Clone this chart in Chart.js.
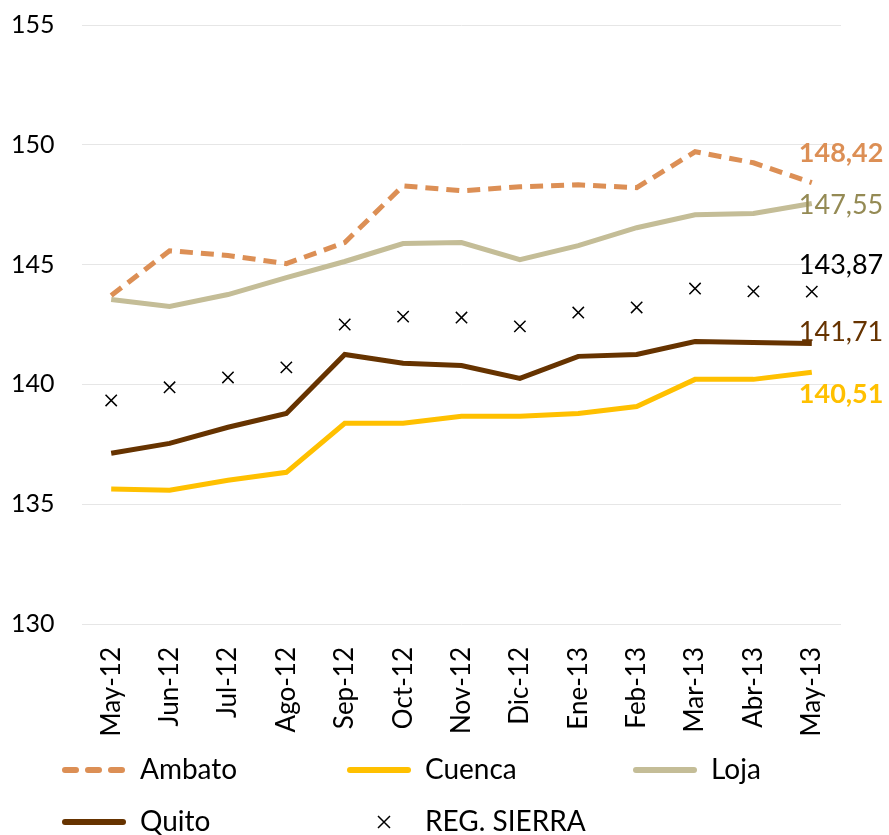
<!DOCTYPE html>
<html>
<head>
<meta charset="utf-8">
<script src="https://cdn.jsdelivr.net/npm/chart.js@4"></script>
<style>
  html, body { margin: 0; padding: 0; background: #fff; }
  #wrap { width: 889px; height: 835px; }
</style>
</head>
<body>
<div id="wrap"><canvas id="mainChart" width="889" height="835"></canvas></div>
<script>
// categories
var months = ['May-12','Jun-12','Jul-12','Ago-12','Sep-12','Oct-12','Nov-12','Dic-12','Ene-13','Feb-13','Mar-13','Abr-13','May-13'];

// series values
var ambato = [143.71,145.58,145.38,145.04,145.92,148.29,148.08,148.25,148.33,148.21,149.71,149.25,148.42];
var cuenca = [135.63,135.58,136.00,136.33,138.38,138.38,138.67,138.67,138.79,139.08,140.21,140.21,140.51];
var loja   = [143.54,143.25,143.75,144.46,145.13,145.88,145.92,145.21,145.79,146.54,147.08,147.13,147.55];
var quito  = [137.13,137.54,138.21,138.79,141.25,140.88,140.79,140.25,141.17,141.25,141.79,141.75,141.71];
var sierra = [139.33,139.88,140.29,140.71,142.50,142.83,142.79,142.42,143.00,143.21,144.00,143.88,143.87];

// y axis ticks
var yMin = 130, yMax = 155, yStep = 5;

var FONT = 'Lato';

function fmt(v) {
    return v.toFixed(2).replace('.', ',');
}

// draws the value of the last point, like the Excel labels
var endLabels = {
    id: 'endLabels',
    afterDatasetsDraw: function(chart) {
        var ctx = chart.ctx;
        chart.data.datasets.forEach(function(ds, i) {
            if (!ds.endLabel) return;
            var meta = chart.getDatasetMeta(i);
            var pt = meta.data[meta.data.length - 1];
            var v = ds.data[ds.data.length - 1];
            ctx.save();
            ctx.font = (ds.endLabel.bold ? 'bold ' : '') + '27px ' + FONT;
            ctx.fillStyle = ds.endLabel.color;
            ctx.textAlign = 'left';
            ctx.textBaseline = 'middle';
            ctx.fillText(fmt(v), pt.x - 13, pt.y + ds.endLabel.dy);
            ctx.restore();
        });
    }
};

// legend in a 3 column grid, like the original
var gridLegend = {
    id: 'gridLegend',
    afterDraw: function(chart) {
        var ctx = chart.ctx;
        var colX = [62, 347, 633];
        var rowY = [770, 822];
        chart.data.datasets.forEach(function(ds, i) {
            var x = colX[i % 3], y = rowY[Math.floor(i / 3)];
            ctx.save();
            if (ds.showLine === false) {
                var cx = x + 37, r = 6;
                ctx.strokeStyle = ds.pointBorderColor;
                ctx.lineWidth = 1.5;
                ctx.beginPath();
                ctx.moveTo(cx - r, y - r); ctx.lineTo(cx + r, y + r);
                ctx.moveTo(cx + r, y - r); ctx.lineTo(cx - r, y + r);
                ctx.stroke();
            } else {
                ctx.strokeStyle = ds.borderColor;
                ctx.lineWidth = 6;
                ctx.lineCap = 'round';
                ctx.setLineDash(ds.borderDash ? [11, 12] : []);
                ctx.beginPath();
                ctx.moveTo(x + 3, y); ctx.lineTo(x + 61, y);
                ctx.stroke();
            }
            ctx.restore();
            ctx.save();
            ctx.font = '28px ' + FONT;
            ctx.fillStyle = '#000';
            ctx.textBaseline = 'middle';
            ctx.fillText(ds.label, x + 78, y);
            ctx.restore();
        });
    }
};

var ctx = document.getElementById('mainChart').getContext('2d');
var chart = new Chart(ctx, {
    type: 'line',
    data: {
        labels: months,
        datasets: [
            { label: 'Ambato', data: ambato, borderColor: '#DC8F55', borderWidth: 5, borderDash: [13, 8],
              pointRadius: 0, endLabel: { color: '#DC8F55', bold: true, dy: -29 } },
            { label: 'Cuenca', data: cuenca, borderColor: '#FFC000', borderWidth: 5,
              pointRadius: 0, endLabel: { color: '#FFC000', bold: true, dy: 22 } },
            { label: 'Loja', data: loja, borderColor: '#C4BD97', borderWidth: 5,
              pointRadius: 0, endLabel: { color: '#948A54', bold: false, dy: 2 } },
            { label: 'Quito', data: quito, borderColor: '#663300', borderWidth: 5,
              pointRadius: 0, endLabel: { color: '#663300', bold: false, dy: -11 } },
            { label: 'REG. SIERRA', data: sierra, showLine: false, borderColor: '#000',
              pointStyle: 'crossRot', pointRadius: 8, pointBorderColor: '#000', pointBorderWidth: 1.5,
              endLabel: { color: '#000', bold: false, dy: -26 } }
        ]
    },
    plugins: [endLabels, gridLegend],
    options: {
        responsive: false,
        animation: false,
        layout: { padding: { top: 24, right: 48, bottom: 85, left: 11 } },
        plugins: {
            legend: { display: false },
            tooltip: { enabled: false }
        },
        scales: {
            x: {
                offset: true,
                grid: { display: false },
                border: { display: false },
                ticks: { minRotation: 90, maxRotation: 90, color: '#000', padding: 15,
                         font: { family: FONT, size: 26 } },
                afterFit: function(s) { s.height = 126; }
            },
            y: {
                min: yMin, max: yMax,
                grid: { color: '#E6E6E6', lineWidth: 1, drawTicks: false },
                border: { display: false },
                ticks: { stepSize: yStep, color: '#000', crossAlign: 'far', padding: 10,
                         font: { family: FONT, size: 25 } },
                afterFit: function(s) { s.width = 71; }
            }
        }
    }
});
</script>
</body>
</html>
